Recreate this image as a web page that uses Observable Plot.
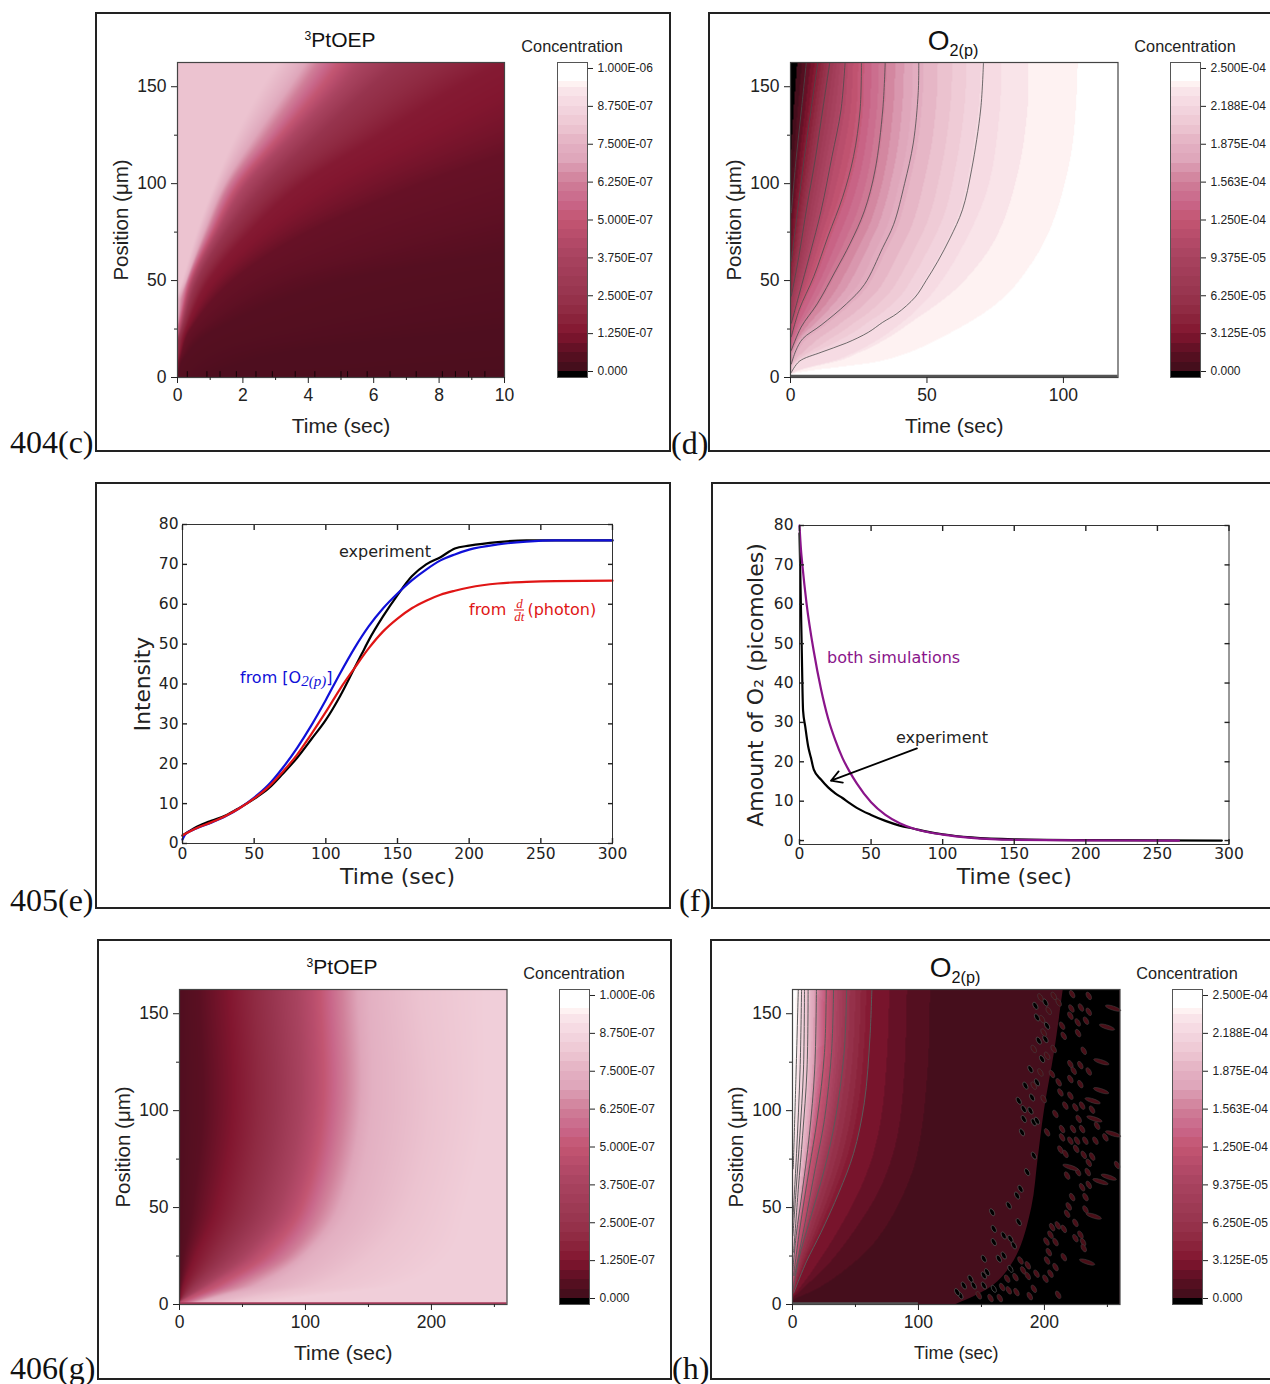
<!DOCTYPE html>
<html>
<head>
<meta charset="utf-8">
<script src="https://cdn.jsdelivr.net/npm/d3@7"></script>
<script src="https://cdn.jsdelivr.net/npm/@observablehq/plot@0.6"></script>
<style>
html,body{margin:0;padding:0;background:#fff}
#page{position:relative;width:1270px;height:1384px;overflow:hidden;background:#fff}
.box{position:absolute;border:2px solid #222;box-sizing:border-box}
.t{position:absolute;white-space:nowrap;transform:translate(-50%,-50%);line-height:1}
.l{position:absolute;white-space:nowrap;transform:translate(0,-50%);line-height:1}
sub{font-size:.58em;vertical-align:-.4em;line-height:0}
sup{font-size:.58em;vertical-align:.6em;line-height:0}
.frac{display:inline-block;vertical-align:middle;text-align:center;font:italic 13px "Liberation Serif";line-height:12px;margin:0 3px}
.frac span{display:block}
.frac span:first-child{border-bottom:1px solid currentColor}
</style>
</head>
<body>
<div id="page"></div>
<script>
// ---------- colour bar ----------
const tickFractions = [0, .125, .25, .375, .5, .625, .75, .875, 1];
const labelsPtOEP = ["0.000","1.250E-07","2.500E-07","3.750E-07","5.000E-07","6.250E-07","7.500E-07","8.750E-07","1.000E-06"];
const labelsO2 = ["0.000","3.125E-05","6.250E-05","9.375E-05","1.250E-04","1.563E-04","1.875E-04","2.188E-04","2.500E-04"];
const rampStops = [0, .06, .125, .2, .25, .375, .45, .5, .56, .625, .7, .75, .8, .875, .93, .96, 1];
const rampColors = ["#3e0d1a","#5a0f22","#82162f","#8f2a42","#97344e","#a8435f","#b84d6c","#c35672","#c9678a","#d07f99","#dfa6ba","#e3b0c2","#ecc3d0","#f4d7e0","#fae6ea","#fff6f4","#ffffff"];

// ---------- (c) 3PtOEP, iso-concentration curves [time, position], early to late ----------
const cLevels = [.8, .75, .6, .4, .25, .14, .08, .05, .035, .03];
const cIso80 = [[.05,45],[.15,50],[.6,75],[1.15,100],[1.8,125],[2.6,150],[3.1,162.5]];
const cIso75 = [[.12,45],[.25,50],[.75,75],[1.35,100],[2.2,125],[3.2,150],[3.7,162.5]];
const cIso60 = [[.05,30],[.32,50],[.95,75],[1.65,100],[2.8,125],[3.9,150],[4.4,162.5]];
const cIso40 = [[.07,25],[.45,50],[1.2,75],[2.1,100],[3.5,125],[4.9,150],[5.5,162.5]];
const cIso25 = [[.12,25],[.6,50],[1.5,75],[2.7,100],[4.3,125],[5.9,150],[6.8,162.5]];
const cIso14 = [[.03,10],[.25,25],[.95,50],[2.2,75],[3.8,100],[6.2,125],[8.6,150],[10,162.5]];
const cIso08 = [[.02,5],[.08,10],[.4,25],[1.7,50],[4,75],[7.5,100],[10,115]];
const cIso05 = [[0,0],[.2,10],[1.2,25],[5,50],[10,65]];
const cIso035 = [[1,0],[1.5,5],[4,15],[10,25]];
const cIso03 = [[5,0],[10,3]];
const cCurves = [cIso80,cIso75,cIso60,cIso40,cIso25,cIso14,cIso08,cIso05,cIso035,cIso03];
const cSpeckTimes = [.3,.9,1.3,1.8,2.4,2.9,3.6,4.2,5,5.2,5.8,6.5,7.3,8.1,8.5,8.9,9.4];

// ---------- (d) O2(p), contour lines [time, position] ----------
const dLevels = [-.005,0,.06,.15,.28,.42,.52,.62,.74,.88,.91,.94,.97];
const dEdge = [[0,100],[0,162.5]];
const dBand97 = [[.5,2],[7,3.5],[33.8,8.6],[53.7,19],[76.3,38],[89.6,60],[97.6,83],[103.6,116],[105.6,147],[106,162.5]];
const dBand94 = [[.5,2],[7,6],[27,14],[47,31],[63,48],[76.3,72.5],[84.3,107],[87.6,138],[88,162.5]];
const dBand91 = [[.3,2],[4.5,4.3],[20.5,10],[37.8,24],[52.4,43],[64.4,69],[73.7,100],[77.7,138],[78,162.5]];
const dLineA = [[.3,2.6],[3.2,8.3],[11.2,13],[20.5,17.8],[28.5,23.3],[33.8,28.5],[39,33],[45.7,41.5],[49.7,50],[54,60],[58.5,72],[63,86.5],[66.4,107.5],[69.7,138.5],[70.7,162.5]];
const dLineB = [[.3,7],[2,14],[4.5,20],[11.2,27],[20.5,38],[27.1,48],[33.8,67],[37.8,79],[41.8,100],[45,121],[46.8,147],[47,162.5]];
const dLineC = [[.3,14],[3.9,26],[9.8,38],[16.5,55],[21.8,69],[27.1,86],[31,107],[33.8,138],[34.7,162.5]];
const dLineD = [[.3,21],[3.2,35],[8.5,52],[13.8,73],[19.1,93],[23.1,114],[25.5,138],[26,162.5]];
const dLineE = [[.3,28],[3.2,43],[7.2,64],[11.2,86],[15.2,114],[18.5,138],[20,162.5]];
const dLineG = [[.3,42],[3,62],[6,88],[9,112],[12,140],[14.4,162.5]];
const dLineH = [[.3,60],[2.5,85],[5,113],[7.5,138],[10,162.5]];
const dLineI = [[.3,85],[2,112],[4,138],[5.8,162.5]];
const dLineJ = [[.2,118],[1.5,145],[2.5,162.5]];
const dCurves = [dEdge,dLineJ,dLineI,dLineH,dLineG,dLineE,dLineD,dLineC,dLineB,dLineA,dBand91,dBand94,dBand97];

// ---------- (e) intensity ----------
const eBlueT = [0,2,10,20,30,40,50,60,70,80,90,100,110,120,130,140,150,160,170,180,190,200,220,240,260,300];
const eBlueV = [1,2.3,3.8,5.2,6.8,8.9,11.5,14.7,19,24,29.7,36,42.7,49,54.5,59,62.7,66,68.7,71,72.5,73.7,75,75.7,76,76];
const eRedT = [0,5,10,20,30,40,50,60,70,80,90,100,110,120,130,140,150,160,170,180,190,200,220,240,260,300];
const eRedV = [2,3,3.9,5.3,6.9,8.9,11.3,14.2,18,22.3,27.5,33,38.8,44,49,53.2,56.4,59,60.9,62.4,63.4,64.2,65.2,65.6,65.8,65.9];
const eBlackT = [0,10,20,30,40,50,60,70,80,90,100,110,120,125,130,140,150,160,170,180,190,200,220,240,300];
const eBlackV = [2,4.2,5.7,7,9,11.2,13.8,17.5,21.5,26.2,31,37,44,47.5,51,57,62.3,67,70,71.8,74,74.7,75.6,76,76];

// ---------- (f) amount of O2 ----------
const fPurpleT = [0,1,2,5,10,15,20,25,30,35,40,50,60,70,80,90,100,120,150,200,265];
const fPurpleV = [80,74,70,60,48,38.5,31,25.5,21,17.5,14.5,9.7,6.5,4.4,3,2.1,1.5,.7,.2,.05,0];
const fBlackT = [0,.7,1.5,2.5,4,6,8,10,15,20,25,30,35,40,50,60,70,80,90,100,120,150,200,295];
const fBlackV = [78,65,50,33,29,24,21,18,15.5,13.5,12,10.8,9.5,8.3,6.5,5,3.8,3,2.2,1.6,.8,.3,.1,0];

// ---------- (g) 3PtOEP recovery ----------
const gLevels = [.04,.06,.12,.25,.45,.62,.75,.8,.84];
const gIso04 = [[0,25],[0,100],[0,162.5]];
const gIso06 = [[.5,10],[3,25],[10,50],[18,100],[15,162.5]];
const gIso12 = [[.2,2],[3,10],[12,25],[28,50],[41,100],[38,162.5]];
const gIso25 = [[2,3],[12,10],[35,25],[60,50],[76,100],[72,162.5]];
const gIso45 = [[8,4],[25,10],[60,25],[90,50],[107,100],[105,162.5]];
const gIso62 = [[20,4],[45,10],[85,25],[112,50],[130,100],[128,162.5]];
const gIso75 = [[40,5],[70,10],[105,25],[135,50],[152,100],[150,162.5]];
const gIso80 = [[70,5],[110,10],[150,25],[180,50],[198,100],[190,162.5]];
const gIso84 = [[110,5],[170,10],[210,25],[225,50],[240,100],[240,162.5]];
const gCurves = [gIso04,gIso06,gIso12,gIso25,gIso45,gIso62,gIso75,gIso80,gIso84];

// ---------- (h) O2(p) depletion ----------
const hLevels = [1,.95,.88,.84,.8,.65,.5,.42,.27,.125,.06,.03,.015];
const hEdge = [[0,90],[0,162.5]];
const hLine95 = [[.6,70],[2.9,121],[4.6,162.5]];
const hLine88 = [[.3,44],[3.2,78],[6,121],[7.2,162.5]];
const hLine84 = [[.3,35.5],[2.9,59.5],[5.8,87],[8.7,121],[9.5,162.5]];
const hLine80 = [[.9,27],[4.6,59.5],[8,87],[11.5,121],[12.4,162.5]];
const hLine65 = [[.3,18],[2.9,35.5],[8,59.5],[13.3,87],[17.6,121],[19,162.5]];
const hLine50 = [[.9,15],[5.8,39],[13.3,70],[19.6,95.5],[25.4,130],[26.8,162.5]];
const hLine42 = [[1.7,15],[9.5,40.6],[18,70],[25.4,95.5],[31,130],[32.6,162.5]];
const hLine27 = [[.6,8],[5,23.5],[14,44],[25.4,70],[34,95.5],[41,130],[43,162.5]];
const hLine125 = [[1,6],[11,22],[22.5,37],[37,58],[48.5,78],[57,104],[61.5,138],[63,162.5]];
const hBand06 = [[8,8],[28,20],[51,39],[71.6,61],[84.5,87],[90,121],[92,162.5]];
const hBand03 = [[2,3],[19.6,8],[42.7,18],[66,32],[86,53],[100,78],[108,121],[110,162.5]];
const hBand015 = [[260,0],[260,162.5]];
const hCurves = [hEdge,hLine95,hLine88,hLine84,hLine80,hLine65,hLine50,hLine42,hLine27,hLine125,hBand06,hBand03,hBand015];
const hBlackEdgeT = [215,208,200,195,190,178,160,130];
const hBlackEdgeP = [162.5,130,100,75,50,25,10,0];
const hBlobs = [[235.2,159.2],[222,160.1],[226.7,140],[233,146.4],[226.4,145.5],[221.4,152.7],[229,153.2],[235.2,151],[214,143.8],[220.6,149],[211.3,155.8],[207.4,159.2],[231.2,130.9],[235.2,120.2],[228.5,123.5],[220.6,124],[223.2,120.6],[211.3,114.6],[220.6,116.3],[228.5,113.7],[229.9,102.6],[224.6,101.7],[237.8,100.5],[227.2,95.7],[241.8,92.2],[229.9,90.5],[222.7,90.5],[214,90.5],[248.4,86.2],[240.5,84.5],[232.5,84.5],[225.9,84.5],[220.6,84.5],[214,86.2],[216.6,102.6],[220.6,107.7],[212.7,109.4],[206,118.9],[202.1,128.3],[215.3,138.6],[207.4,131.8],[199.4,140.3],[203.4,151.5],[196.8,158.4],[198.1,147.2],[191.5,131.8],[196.8,119.7],[191.5,112.9],[199.4,106],[208.7,98.3],[202.1,88.8],[225.2,80.3],[212.7,79.9],[231.2,77.2],[237.9,76.3],[235.2,73.1],[216.7,77.7],[226.7,68.3],[234.4,68.3],[218,66.5],[257.7,72],[235.2,61.7],[229.9,60.5],[222,55.4],[232.6,55.4],[219.3,50.6],[218,46.8],[232.6,49],[224.6,42.1],[215.4,39],[206.1,39.9],[210.6,40.8],[228.6,36],[224.6,34.2],[230.7,32.2],[231.2,29.1],[204.8,36],[208.8,32.2],[201.6,32.5],[203.5,27],[215.4,24.4],[208.8,19.3],[202.1,22.7],[204.8,15.9],[200.8,13.3],[193.7,15.9],[186.8,20.2],[183.1,17.6],[186.8,14.7],[181,22.7],[177,14.1],[170.4,13.3],[166.4,9],[171.7,7.3],[177.8,6.4],[191.6,8.1],[188.4,4.3],[210.9,5],[157.2,3.3],[164.6,3.3],[147.9,4.7]];
const hLongBlobs = [[254.5,152.9],[249.7,143.1],[245.2,125.2],[245,110.3],[238.3,105.1],[239.7,95.7],[254.5,88],[220.7,70.8],[251.1,65.7],[244.5,63.4],[239.2,45.6],[233.9,21.9]];
const hBlackSpecks = [[183.6,100.8],[191.5,94],[182.2,88.8],[190.2,106.8],[194.1,114.6],[198.1,126.6],[188.9,121.4],[195.5,136.1],[202.1,143.8],[192.8,154.1],[200.8,155.8],[158.5,47.6],[159.8,32.2],[151.9,23.6],[167.7,25.3],[173,33.9],[179.6,42.5],[171.7,51.1],[181,59.7],[186.3,68.3],[191.6,76.8],[141.3,13.3],[151.9,15],[159.8,8.1],[133.3,4.7],[194.1,148.1],[200.8,136.9],[188.9,100],[194.1,94.8],[183.6,95.7],[179.6,105.1],[184.9,112.9],[178.3,56.2],[175.7,30.5],[167.7,35.6],[159.8,39],[163.8,23.6],[154.5,16.7],[143.9,9.8],[136,9.8],[130.7,6.4],[151.9,9.8],[173,18.4]];

// ---------- helpers ----------
const page = document.getElementById("page");
const ramp = d3.scaleLinear().domain(rampStops).range(rampColors);
const thresholds = d3.range(32).map(i => i / 32);
const bandColors = ["#000000", ...d3.range(31).map(i => ramp((i + .5) / 32)), "#ffffff"];
const colorScale = {type: "threshold", domain: thresholds, range: bandColors};
const smoothScale = {type: "linear", domain: rampStops, range: rampColors, clamp: true};
const sans = '"Liberation Sans", Arial, sans-serif';
const deja = '"DejaVu Sans", sans-serif';

function put(o, mks) {
  const {x0, x1, y0, y1, font, ml = 70, mr = 20, mt = 12, mb = 70, ...rest} = o;
  const svg = Plot.plot({
    width: x1 - x0 + ml + mr, height: y1 - y0 + mt + mb,
    marginLeft: ml, marginRight: mr, marginTop: mt, marginBottom: mb,
    style: {position: "absolute", left: (x0 - ml) + "px", top: (y0 - mt) + "px", background: "transparent",
      overflow: "visible", maxWidth: "none", fontFamily: font || sans, color: "#222"},
    marks: mks, ...rest
  });
  page.appendChild(svg);
}
function html(cls, s, x, y, css) {
  const d = document.createElement("div");
  d.className = cls; d.innerHTML = s; d.style.left = x + "px"; d.style.top = y + "px";
  d.style.cssText += css; page.appendChild(d);
}
function box(x, y, w, h) {
  const d = document.createElement("div");
  d.className = "box"; d.style.cssText = `left:${x}px;top:${y}px;width:${w}px;height:${h}px`;
  page.appendChild(d);
}
const lineData = pts => pts.map(([t, p]) => ({t, p}));

// time at which a read iso-curve passes a position (Hermite through the read points)
function curveTime(c, p) {
  const n = c.length;
  if (n < 2) return c[0][0];
  if (p <= c[0][1] || p >= c[n - 1][1]) {
    const [a, b] = p <= c[0][1] ? [c[0], c[1]] : [c[n - 2], c[n - 1]];
    return Math.max(0, a[0] + (b[0] - a[0]) * (p - a[1]) / (b[1] - a[1]));
  }
  let i = 0;
  while (p > c[i + 1][1]) i++;
  const a = c[i], b = c[i + 1], h = b[1] - a[1], s = (p - a[1]) / h;
  const slope = (u, v) => (v[0] - u[0]) / (v[1] - u[1]);
  const m0 = i > 0 ? slope(c[i - 1], b) : slope(a, b);
  const m1 = i < n - 2 ? slope(a, c[i + 2]) : slope(a, b);
  return Math.max(0, (2*s*s*s - 3*s*s + 1) * a[0] + (s*s*s - 2*s*s + s) * h * m0 +
    (-2*s*s*s + 3*s*s) * b[0] + (s*s*s - s*s) * h * m1);
}
// concentration at (t, p) from the table of iso-curves, ordered by arrival time
function isoField(levels, curves) {
  const sorted = curves.map(c => [...c].sort((a, b) => a[1] - b[1]));
  const cache = new Map();
  return (t, p) => {
    let ts = cache.get(p);
    if (!ts) {
      let m = 0;
      ts = sorted.map(c => (m = Math.max(m, curveTime(c, p))));
      cache.set(p, ts);
    }
    if (t <= ts[0]) return levels[0];
    for (let i = 0; i < ts.length - 1; i++)
      if (t <= ts[i + 1] && ts[i + 1] > ts[i])
        return levels[i] + (levels[i + 1] - levels[i]) * (t - ts[i]) / (ts[i + 1] - ts[i]);
    return levels[levels.length - 1];
  };
}
const field = (levels, curves, tMax) =>
  Plot.raster({fill: isoField(levels, curves), x1: 0, x2: tMax, y1: 0, y2: 162.5});

function colorbar(x0, y0, labels) {
  const edges = [-.0198, ...thresholds, .957, 1.0198];
  const bands = d3.pairs(edges).map(([lo, hi], i) => ({lo, hi, v: i === 0 ? -.01 : i === edges.length - 2 ? 1 : lo + 1e-4}));
  put({x0, x1: x0 + 30, y0, y1: y0 + 315, mr: 90, ml: 4, mt: 2, mb: 6,
       x: {domain: [0, 1], axis: null}, y: {domain: [-.0198, 1.0198]}, color: colorScale}, [
    Plot.rect(bands, {x1: 0, x2: 1, y1: "lo", y2: "hi", fill: "v", shapeRendering: "crispEdges"}),
    Plot.frame({stroke: "#555", strokeWidth: 1}),
    Plot.axisY({anchor: "right", ticks: tickFractions, tickSize: 5, tickPadding: 5, fontSize: 12, label: null,
      tickFormat: d => labels[tickFractions.indexOf(d)]})
  ]);
}
function heatAxes(xTicks, xMinor, xLabelSize) {
  return [
    Plot.frame({stroke: "#444", strokeWidth: 1.2}),
    Plot.axisX({ticks: xTicks, tickSize: 6, tickPadding: 5, fontSize: 17.5, label: null}),
    Plot.axisX({ticks: xMinor, tickSize: 3, tickFormat: () => "", label: null}),
    Plot.axisY({ticks: [0, 50, 100, 150], tickSize: 6, tickPadding: 5, fontSize: 17.5, label: null}),
    Plot.axisY({ticks: [25, 75, 125], tickSize: 3, tickFormat: () => "", label: null}),
    Plot.text(["Time (sec)"], {frameAnchor: "bottom", textAnchor: "middle", lineAnchor: "middle", dy: 49, fontSize: xLabelSize}),
    Plot.text(["Position (μm)"], {frameAnchor: "left", textAnchor: "middle", lineAnchor: "middle", rotate: -90, dx: -56, fontSize: 20.5})
  ];
}
const yPos = {domain: [0, 162.5]};

// ---------- outer frames ----------
box(95, 12, 576, 440);
box(708, 12, 570, 440);
box(95, 482, 576, 427);
box(711, 482, 570, 427);
box(97, 939, 575, 441);
box(710, 939, 570, 441);

// ---------- (c) ----------
put({x0: 177, x1: 504, y0: 62, y1: 377, x: {domain: [0, 10]}, y: yPos, color: smoothScale}, [
  field(cLevels, cCurves, 10),
  Plot.ruleX(cSpeckTimes, {y1: 0, y2: 3, stroke: "#120306", strokeWidth: 1}),
  ...heatAxes([0,2,4,6,8,10], [1,3,5,7,9], 21)
]);
colorbar(557, 62, labelsPtOEP);

// ---------- (d) ----------
put({x0: 789.5, x1: 1117, y0: 62, y1: 377, x: {domain: [0, 120]}, y: yPos, color: colorScale}, [
  field(dLevels, dCurves, 120),
  ...[dLineA,dLineB,dLineC,dLineD,dLineE,dLineG,dLineH,dLineI].map(c =>
    Plot.line(lineData(c), {x: "t", y: "p", stroke: "#4a4a4a", strokeWidth: .8, curve: "catmull-rom"})),
  Plot.ruleY([.6], {stroke: "#555", strokeWidth: 3}),
  ...heatAxes([0,50,100], [], 21)
]);
colorbar(1170, 62, labelsO2);

// ---------- (g) ----------
put({x0: 178.5, x1: 506, y0: 989, y1: 1304, x: {domain: [0, 260]}, y: yPos, color: smoothScale}, [
  field(gLevels, gCurves, 260),
  Plot.ruleY([.6], {stroke: "#a83a5a", strokeWidth: 2}),
  ...heatAxes([0,100,200], [50,150,250], 21)
]);
colorbar(559, 989, labelsPtOEP);

// ---------- (h) ----------
const ellipse = stretch => ({draw(ctx, size) {
  const r = Math.sqrt(size / Math.PI), a = r * stretch, b = r / stretch, k = .5523;
  ctx.moveTo(a, 0);
  ctx.bezierCurveTo(a, k * b, k * a, b, 0, b);
  ctx.bezierCurveTo(-k * a, b, -a, k * b, -a, 0);
  ctx.bezierCurveTo(-a, -k * b, -k * a, -b, 0, -b);
  ctx.bezierCurveTo(k * a, -b, a, -k * b, a, 0);
  ctx.closePath();
}});
const blackEdge = hBlackEdgeT.map((t, i) => ({t, p: hBlackEdgeP[i]}));
put({x0: 791.5, x1: 1119, y0: 989, y1: 1304, x: {domain: [0, 260]}, y: yPos, color: colorScale}, [
  field(hLevels, hCurves, 260),
  ...[hLine95,hLine88,hLine84,hLine80,hLine65,hLine50,hLine42,hLine27,hLine125].map(c =>
    Plot.line(lineData(c), {x: "t", y: "p", stroke: "#5a5a5a", strokeWidth: 1, curve: "catmull-rom"})),
  Plot.areaX(blackEdge, {x1: "t", x2: () => 260, y: "p", fill: "#000", curve: "catmull-rom"}),
  Plot.dot(lineData(hBlackSpecks), {x: "t", y: "p", r: 2.8, symbol: ellipse(1.4), rotate: 60, fill: "#000", stroke: "#555", strokeWidth: .7}),
  Plot.dot(lineData(hBlobs), {x: "t", y: "p", r: 3, symbol: ellipse(1.4), rotate: 60, fill: "#4a0f18", stroke: "#444", strokeWidth: .5}),
  Plot.dot(lineData(hLongBlobs), {x: "t", y: "p", r: 4, symbol: ellipse(2), rotate: 18, fill: "#4a0f18", stroke: "#444", strokeWidth: .5}),
  Plot.ruleY([.6], {x1: 0, x2: 100, stroke: "#555", strokeWidth: 2}),
  ...heatAxes([0,100,200], [50,150,250], 18)
]);
colorbar(1172, 989, labelsO2);

// ---------- (e) ----------
const linePts = (T, V) => T.map((t, i) => ({t, v: V[i]}));
const tickCommon = {tickSize: -5, strokeWidth: 1.4, label: null};
put({x0: 182, x1: 612, y0: 524, y1: 843, font: deja, x: {domain: [0, 300]}, y: {domain: [0, 80]}}, [
  Plot.line(linePts(eBlackT, eBlackV), {x: "t", y: "v", stroke: "#000", strokeWidth: 2.2, curve: "monotone-x"}),
  Plot.line(linePts(eBlueT, eBlueV), {x: "t", y: "v", stroke: "#1010d8", strokeWidth: 2.2, curve: "monotone-x"}),
  Plot.line(linePts(eRedT, eRedV), {x: "t", y: "v", stroke: "#e01515", strokeWidth: 2.2, curve: "monotone-x"}),
  Plot.frame({stroke: "#333", strokeWidth: 1}),
  Plot.axisX({ticks: d3.range(0, 301, 50), ...tickCommon, tickPadding: 9, fontSize: 15.5}),
  Plot.axisX({anchor: "top", ticks: d3.range(0, 301, 50), ...tickCommon, tickFormat: () => ""}),
  Plot.axisY({ticks: d3.range(0, 81, 10), ...tickCommon, tickPadding: 9, fontSize: 15.5}),
  Plot.axisY({anchor: "right", ticks: d3.range(0, 81, 10), ...tickCommon, tickFormat: () => ""}),
  Plot.text(["Time (sec)"], {frameAnchor: "bottom", textAnchor: "middle", lineAnchor: "middle", dy: 33, fontSize: 22}),
  Plot.text(["Intensity"], {frameAnchor: "left", textAnchor: "middle", lineAnchor: "middle", rotate: -90, dx: -39, fontSize: 21.7})
]);
html("l", "experiment", 339, 551, `font:16px ${deja};color:#222`);
html("l", 'from [O<sub style="font:italic 15px Liberation Serif;vertical-align:-.25em">2(p)</sub>]', 240, 679, `font:16px ${deja};color:#1010d8`);
html("l", 'from <span class="frac"><span>d</span><span>dt</span></span>(photon)', 469, 610, `font:16px ${deja};color:#e01515`);

// ---------- (f) ----------
put({x0: 798.5, x1: 1228, y0: 525, y1: 844, font: deja, x: {domain: [0, 300]}, y: {domain: [-1, 80]}}, [
  Plot.line(linePts(fBlackT, fBlackV), {x: "t", y: "v", stroke: "#000", strokeWidth: 2.2, curve: "monotone-x"}),
  Plot.line(linePts(fPurpleT, fPurpleV), {x: "t", y: "v", stroke: "#8a148a", strokeWidth: 2.2, curve: "monotone-x"}),
  Plot.arrow([{x1: 82, y1: 23.4, x2: 22, y2: 15.2}], {x1: "x1", y1: "y1", x2: "x2", y2: "y2", bend: 0, headLength: 10, stroke: "#000", strokeWidth: 1.8}),
  Plot.frame({stroke: "#333", strokeWidth: 1}),
  Plot.axisX({ticks: d3.range(0, 301, 50), ...tickCommon, tickPadding: 8, fontSize: 15.5}),
  Plot.axisX({anchor: "top", ticks: d3.range(0, 301, 50), ...tickCommon, tickFormat: () => ""}),
  Plot.axisY({ticks: d3.range(0, 81, 10), ...tickCommon, tickPadding: 11, fontSize: 15.5}),
  Plot.axisY({anchor: "right", ticks: d3.range(0, 81, 10), ...tickCommon, tickFormat: () => ""}),
  Plot.text(["Time (sec)"], {frameAnchor: "bottom", textAnchor: "middle", lineAnchor: "middle", dy: 32, fontSize: 22}),
  Plot.text(["Amount of O₂ (picomoles)"], {frameAnchor: "left", textAnchor: "middle", lineAnchor: "middle", rotate: -90, dx: -44, fontSize: 22})
]);
html("l", "both simulations", 827, 657, `font:16px ${deja};color:#8a148a`);
html("l", "experiment", 896, 737, `font:16px ${deja};color:#222`);

// ---------- titles ----------
const titleCss = `font:21px ${sans};color:#111`;
html("t", "<sup>3</sup>PtOEP", 340, 40, titleCss);
html("t", "<sup>3</sup>PtOEP", 342, 967, titleCss);
const o2Css = `font:28px ${sans};color:#111`;
html("t", "O<sub>2(p)</sub>", 953, 41, o2Css);
html("t", "O<sub>2(p)</sub>", 955, 968, o2Css);
const concCss = `font:16.3px ${sans};color:#222`;
html("t", "Concentration", 572, 46, concCss);
html("t", "Concentration", 1185, 46, concCss);
html("t", "Concentration", 574, 973, concCss);
html("t", "Concentration", 1187, 973, concCss);

// ---------- panel labels ----------
const tagCss = `font:32px "Liberation Serif",serif;color:#111`;
html("l", "404(c)", 10, 442, tagCss);
html("l", "(d)", 671, 443, tagCss);
html("l", "405(e)", 10, 900, tagCss);
html("l", "(f)", 679, 900, tagCss);
html("l", "406(g)", 10, 1368, tagCss);
html("l", "(h)", 672, 1368, tagCss);
</script>
</body>
</html>
